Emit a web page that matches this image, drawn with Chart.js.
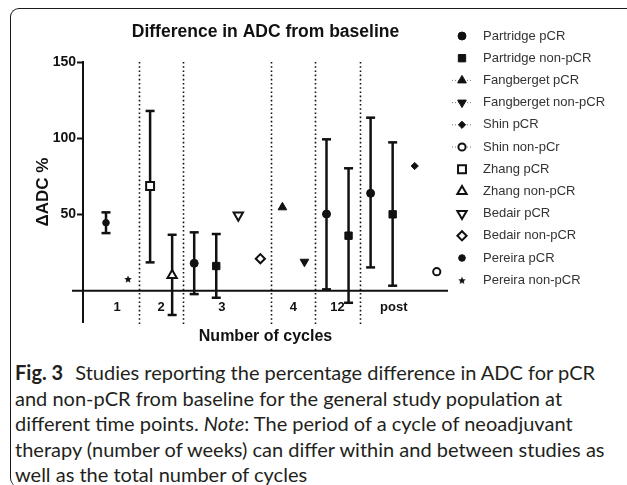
<!DOCTYPE html>
<html>
<head>
<meta charset="utf-8">
<script src="https://cdn.jsdelivr.net/npm/chart.js@4.4.1/dist/chart.umd.min.js"></script>
<style>
  html, body { margin: 0; padding: 0; background: #fff; width: 627px; height: 485px; overflow: hidden; }
  #frame { position: absolute; left: 10px; top: 8px; width: 640px; height: 478px;
    border-top: 1.5px solid #1a1a1a; border-left: 1.5px solid #1a1a1a; border-radius: 9px 0 0 9px; }
  #chart { position: absolute; left: 0; top: 0; }
  #caption { position: absolute; left: 15px; top: 360px; font-family: Lato, 'Open Sans', sans-serif;
    font-size: 20px; line-height: 25.5px; color: #231f20; white-space: nowrap; }
  #caption b { font-weight: 700; margin-right: 7px; }
</style>
</head>
<body>
<div id="frame"></div>
<canvas id="chart" width="627" height="345"></canvas>
<div id="caption">
  <b>Fig. 3</b> Studies reporting the percentage difference in ADC for pCR<br>
  and non-pCR from baseline for the general study population at<br>
  different time points. <i>Note</i>: The period of a cycle of neoadjuvant<br>
  therapy (number of weeks) can differ within and between studies as<br>
  well as the total number of cycles
</div>
<script>
// ── データ ────────────────────────────────────────────
const cycles = ['1', '2', '3', '4', '12', 'post'];
const studies = [
  'Partridge pCR', 'Partridge non-pCR', 'Fangberget pCR', 'Fangberget non-pCR',
  'Shin pCR', 'Shin non-pCr', 'Zhang pCR', 'Zhang non-pCR',
  'Bedair pCR', 'Bedair non-pCR', 'Pereira pCR', 'Pereira non-pCR'
];

// one entry per plotted estimate, left to right
const pointStudy = [
  'Pereira pCR', 'Pereira non-pCR', 'Zhang pCR', 'Zhang non-pCR',
  'Partridge pCR', 'Partridge non-pCR', 'Bedair pCR', 'Bedair non-pCR',
  'Fangberget pCR', 'Fangberget non-pCR', 'Partridge pCR', 'Partridge non-pCR',
  'Partridge pCR', 'Partridge non-pCR', 'Shin pCR', 'Shin non-pCr'
];
const pointCycle = ['1', '1', '2', '2', '3', '3', '3', '3', '4', '4', '12', '12', 'post', 'post', 'post', 'post'];
const deltaADC = [44.6, 7.7, 68.7, 10.1, 18.0, 16.2, 49.5, 21.0, 54.7, 19.0, 50.3, 36.1, 63.9, 50.1, 81.8, 12.5];
const errLow   = [37.8, null, 18.6, -15.9, -2.2, -4.6, null, null, null, null, 0.9, -7.9, 15.3, 3.3, null, null];
const errHigh  = [51.4, null, 117.9, 36.7, 38.3, 37.2, null, null, null, null, 99.3, 80.3, 113.5, 97.3, null, null];
const yTicks = [50, 100, 150];

// where the cycle labels sit under the axis (slot units)
const cycleLabelAt = [0.5, 2.5, 5.25, 8.5, 10.5, 13.05];

const INK = '#111';
const FONT = '"Liberation Sans", Arial, Helvetica, sans-serif';
Chart.defaults.font.family = FONT;
Chart.defaults.color = INK;

// small filled star for Pereira non-pCR
function makeStar(size) {
  const c = document.createElement('canvas');
  c.width = c.height = size;
  const g = c.getContext('2d');
  const cx = size / 2, cy = size / 2 + 0.5, R = size / 2, r = R * 0.45;
  g.beginPath();
  for (let k = 0; k < 10; k++) {
    const a = -Math.PI / 2 + k * Math.PI / 5;
    const rr = k % 2 ? r : R;
    g.lineTo(cx + rr * Math.cos(a), cy + rr * Math.sin(a));
  }
  g.closePath();
  g.fillStyle = INK;
  g.fill();
  return c;
}

// marker look per study
const markerStyle = {
  'Partridge pCR':      { style: 'circle',   r: 4,   filled: true },
  'Partridge non-pCR':  { style: 'rect',     r: 5.2, filled: true },
  'Fangberget pCR':     { style: 'triangle', r: 5,   filled: true, dots: true },
  'Fangberget non-pCR': { style: 'triangle', r: 5,   filled: true, dots: true, rot: 180 },
  'Shin pCR':           { style: 'rectRot',  r: 3.6, filled: true, dots: true },
  'Shin non-pCr':       { style: 'circle',   r: 3.6, filled: false, dots: true },
  'Zhang pCR':          { style: 'rect',     r: 5.6, filled: false },
  'Zhang non-pCR':      { style: 'triangle', r: 5.4, filled: false },
  'Bedair pCR':         { style: 'triangle', r: 5.4, filled: false, rot: 180 },
  'Bedair non-pCR':     { style: 'rectRot',  r: 4.6, filled: false },
  'Pereira pCR':        { style: 'circle',   r: 3.3, filled: true },
  'Pereira non-pCR':    { style: makeStar(8), r: 4, filled: true }
};

const studySets = studies.map(name => {
  const m = markerStyle[name];
  return {
    type: 'scatter',
    label: name,
    isStudy: true,
    legendDots: !!m.dots,
    order: 0,
    data: pointStudy.map((s, i) => s === name ? { x: i, y: deltaADC[i] } : null).filter(Boolean),
    pointStyle: m.style,
    pointRadius: m.r,
    pointHoverRadius: m.r,
    pointRotation: m.rot || 0,
    pointBackgroundColor: m.filled ? INK : '#fff',
    pointBorderColor: INK,
    pointBorderWidth: m.filled ? 1 : 2,
  };
});

// vertical error bars with caps
const errorSets = deltaADC.map((v, i) => errLow[i] === null ? null : {
  type: 'line',
  label: 'err',
  order: 1,
  data: [{ x: i, y: errLow[i] }, { x: i, y: errHigh[i] }],
  borderColor: INK,
  borderWidth: 2.5,
  pointStyle: 'line',
  pointRadius: 4.5,
  pointHoverRadius: 4.5,
  pointBorderColor: INK,
  pointBorderWidth: 2.5,
  fill: false,
}).filter(Boolean);

// dotted separators between cycle groups + zero line
const cycleFrame = {
  id: 'cycleFrame',
  beforeDatasetsDraw(chart) {
    const { ctx, chartArea, scales: { x, y } } = chart;
    ctx.save();
    ctx.strokeStyle = INK;
    ctx.lineWidth = 1.6;
    ctx.setLineDash([1.6, 2.6]);
    pointCycle.forEach((c, i) => {
      if (i === pointCycle.length - 1 || c === pointCycle[i + 1]) return;
      const px = Math.round(x.getPixelForValue(i + 0.5)) + 0.5;
      ctx.beginPath();
      ctx.moveTo(px, chartArea.top);
      ctx.lineTo(px, chartArea.bottom + 3);
      ctx.stroke();
    });
    ctx.setLineDash([]);
    ctx.lineWidth = 2;
    const y0 = y.getPixelForValue(0);
    ctx.beginPath();
    ctx.moveTo(chartArea.left - 11, y0);
    ctx.lineTo(chartArea.right, y0);
    ctx.stroke();
    ctx.restore();
  }
};

// legend on the right, same markers as the plot
const studyLegend = {
  id: 'studyLegend',
  afterDraw(chart) {
    const { ctx, chartArea } = chart;
    const mx = chartArea.right + 14;
    const tx = chartArea.right + 35;
    ctx.save();
    ctx.font = '13px ' + FONT;
    ctx.textBaseline = 'middle';
    chart.data.datasets.filter(d => d.isStudy).forEach((ds, i) => {
      const ly = chartArea.top - 26 + i * 22.2;
      if (ds.legendDots) {
        ctx.strokeStyle = '#777';
        ctx.lineWidth = 1;
        ctx.setLineDash([1, 2]);
        ctx.beginPath();
        ctx.moveTo(mx - 10, ly);
        ctx.lineTo(mx + 10, ly);
        ctx.stroke();
        ctx.setLineDash([]);
      }
      ctx.fillStyle = ds.pointBackgroundColor;
      ctx.strokeStyle = ds.pointBorderColor;
      ctx.lineWidth = ds.pointBorderWidth;
      Chart.helpers.drawPoint(ctx, {
        pointStyle: ds.pointStyle, radius: ds.pointRadius,
        rotation: ds.pointRotation, borderWidth: ds.pointBorderWidth
      }, mx, ly);
      ctx.fillStyle = '#333';
      ctx.fillText(ds.label, tx, ly);
    });
    ctx.restore();
  }
};

new Chart(document.getElementById('chart'), {
  type: 'scatter',
  data: { datasets: [...studySets, ...errorSets] },
  options: {
    responsive: false,
    animation: false,
    devicePixelRatio: 1,
    layout: { padding: { left: 33, right: 179, top: 0, bottom: 23 } },
    plugins: {
      legend: { display: false },
      tooltip: { enabled: false },
      title: {
        display: true,
        fullSize: false,
        text: 'Difference in ADC from baseline',
        color: INK,
        font: { size: 17.5, weight: 'bold' },
        padding: { top: 21.5, bottom: 19.5 }
      }
    },
    scales: {
      x: {
        type: 'linear',
        position: { y: 0 },
        min: -1.043,
        max: 15.51,
        afterBuildTicks: s => { s.ticks = cycleLabelAt.map(v => ({ value: v })); },
        afterFit: s => { s.paddingLeft = 0; s.paddingRight = 0; },
        grid: { display: false, drawTicks: false },
        border: { display: false },
        ticks: {
          autoSkip: false, maxRotation: 0, padding: 9, color: INK,
          font: { size: 13, weight: 'bold' },
          callback: (v, i) => cycles[i]
        },
        title: {
          display: true, text: 'Number of cycles', color: INK,
          font: { size: 16, weight: 'bold' }, padding: { top: 3, bottom: 0 }
        }
      },
      y: {
        min: -20.5,
        max: 150,
        afterBuildTicks: s => { s.ticks = yTicks.map(v => ({ value: v })); },
        afterFit: s => { s.width = 50; s.paddingTop = 0; s.paddingBottom = 0; },
        grid: { drawOnChartArea: false, drawTicks: true, tickLength: 6, tickWidth: 2, tickColor: INK },
        border: { display: true, color: INK, width: 2 },
        ticks: { padding: 1, color: INK, font: { size: 14, weight: 'bold' } },
        title: {
          display: true, text: 'ΔADC %', color: INK,
          font: { size: 17, weight: 'bold' }, padding: 0
        }
      }
    }
  },
  plugins: [cycleFrame, studyLegend]
});
</script>
</body>
</html>
